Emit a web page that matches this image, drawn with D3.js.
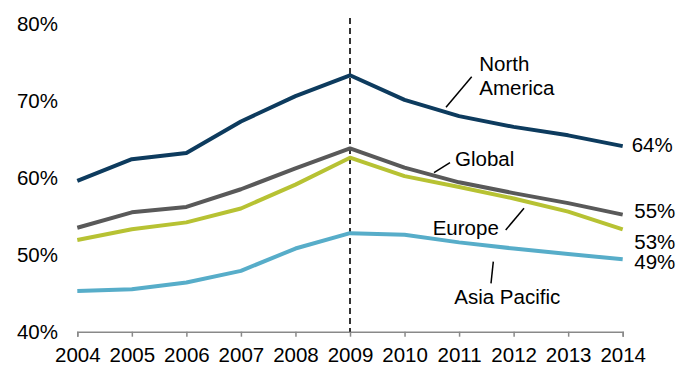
<!DOCTYPE html>
<html>
<head>
<meta charset="utf-8">
<script src="https://cdn.jsdelivr.net/npm/d3@7"></script>
<style>
  html, body { margin: 0; padding: 0; background: #fff; }
  svg { display: block; }
</style>
</head>
<body>
<svg id="chart"></svg>
<script>
const width = 690;
const height = 367;

// data
const years = [2004, 2005, 2006, 2007, 2008, 2009, 2010, 2011, 2012, 2013, 2014];
const northAmerica = [59.6, 62.4, 63.2, 67.3, 70.6, 73.3, 70.1, 68.0, 66.6, 65.5, 64.1];
const globalShare = [53.5, 55.5, 56.2, 58.5, 61.2, 63.8, 61.3, 59.4, 58.0, 56.7, 55.2];
const europe = [51.9, 53.3, 54.2, 56.0, 59.1, 62.6, 60.2, 58.8, 57.3, 55.6, 53.3];
const asiaPacific = [45.3, 45.5, 46.4, 47.9, 50.8, 52.8, 52.6, 51.6, 50.8, 50.1, 49.4];
const yTicks = [40, 50, 60, 70, 80];
const endLabels = ['64%', '55%', '53%', '49%'];
const markerYear = 2009;

const series = [
    {name: 'North America', values: northAmerica, color: '#0d3b5e'},
    {name: 'Global', values: globalShare, color: '#595959'},
    {name: 'Europe', values: europe, color: '#b7c233'},
    {name: 'Asia Pacific', values: asiaPacific, color: '#57adc9'}
];

const font = 'Liberation Sans, Arial, sans-serif';

const x = d3.scaleLinear().domain([2004, 2014]).range([77.3, 622.7]);
const y = d3.scaleLinear().domain([40, 80]).range([331.7, 23.7]);

const svg = d3.select('#chart')
    .attr('width', width)
    .attr('height', height);

// y labels (no axis line)
svg.append('g')
    .selectAll('text')
    .data(yTicks)
    .join('text')
    .attr('x', 58)
    .attr('y', d => y(d))
    .attr('dy', '0.35em')
    .attr('text-anchor', 'end')
    .attr('font-family', font)
    .attr('font-size', '20.5px')
    .attr('fill', '#000')
    .text(d => d + '%');

// x axis
const xAxis = svg.append('g')
    .attr('transform', `translate(0, ${y(40)})`)
    .call(d3.axisBottom(x).tickValues(years).tickFormat(d3.format('d')).tickSize(5).tickPadding(11));
xAxis.select('.domain').attr('stroke', '#898989').attr('stroke-width', 1.5);
xAxis.selectAll('.tick line').attr('stroke', '#898989').attr('stroke-width', 1.5);
xAxis.selectAll('.tick text')
    .attr('font-family', font)
    .attr('font-size', '20.5px')
    .attr('fill', '#000');

// dashed marker at 2009
svg.append('line')
    .attr('x1', x(markerYear))
    .attr('x2', x(markerYear))
    .attr('y1', 18)
    .attr('y2', y(40))
    .attr('stroke', '#000')
    .attr('stroke-width', 1.6)
    .attr('stroke-dasharray', '6,4');

// lines
const line = d3.line()
    .x((d, i) => x(years[i]))
    .y(d => y(d));

svg.append('g')
    .selectAll('path')
    .data(series)
    .join('path')
    .attr('d', d => line(d.values))
    .attr('fill', 'none')
    .attr('stroke', d => d.color)
    .attr('stroke-width', 4)
    .attr('stroke-linejoin', 'round');

// end value labels
const endY = [151.5, 217.5, 249, 269];
const endX = [631.7, 634.3, 634.3, 634.3];
svg.append('g')
    .selectAll('text')
    .data(endLabels)
    .join('text')
    .attr('x', (d, i) => endX[i])
    .attr('y', (d, i) => endY[i])
    .attr('font-family', font)
    .attr('font-size', '20.5px')
    .attr('fill', '#000')
    .text(d => d);

// series name labels with leader lines
const labels = [
    {lines: ['North', 'America'], x: 479.3, y: 71, leader: [471.7, 76.7, 446, 107.3]},
    {lines: ['Global'], x: 455, y: 165.7, leader: [450, 162.7, 434, 172.7]},
    {lines: ['Europe'], x: 432.7, y: 235, leader: [505.7, 230, 524, 208.3]},
    {lines: ['Asia Pacific'], x: 454.3, y: 304, leader: [493.3, 261.7, 491, 283.3]}
];

labels.forEach(l => {
    const t = svg.append('text')
        .attr('font-family', font)
        .attr('font-size', '20.5px')
        .attr('fill', '#000');
    l.lines.forEach((s, i) => {
        t.append('tspan')
            .attr('x', l.x)
            .attr('y', l.y + i * 24)
            .text(s);
    });
    svg.append('line')
        .attr('x1', l.leader[0])
        .attr('y1', l.leader[1])
        .attr('x2', l.leader[2])
        .attr('y2', l.leader[3])
        .attr('stroke', '#000')
        .attr('stroke-width', 1.5);
});
</script>
</body>
</html>
